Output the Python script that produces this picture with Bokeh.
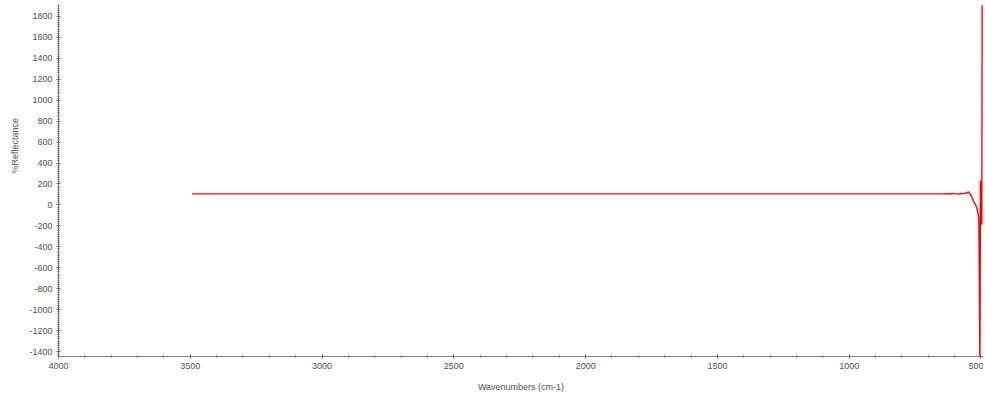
from bokeh.plotting import figure
from bokeh.models import (Range1d, SingleIntervalTicker, ColumnDataSource, Title,
                          CustomJSTickFormatter)
from bokeh.embed import file_html
from bokeh.resources import INLINE

# Spectrum data (wavenumber in cm-1, % reflectance)
wavenumber = [3493, 700, 640, 623, 615, 605, 595, 585, 575, 565, 555, 547,
              540, 533, 527, 521, 514, 508, 504, 502, 500, 497, 495.5]
reflectance = [106, 106, 106, 108, 104, 110, 106, 103, 109, 108, 114, 124,
               98, 67, 30, 3, -45, -124, -1550, 229, 200, -190, 2100]

x_ticks_major = 500
y_ticks_major = 200

src = ColumnDataSource(dict(x=wavenumber, y=reflectance))

p = figure(width=983, height=394, output_backend="svg", toolbar_location=None,
           x_range=Range1d(4000, 490.5), y_range=Range1d(-1447.5, 1904.5),
           min_border_left=58, min_border_right=0, min_border_top=5,
           min_border_bottom=36)

p.line("x", "y", source=src, line_color="#ff0000", line_width=1.4)

p.xgrid.visible = False
p.ygrid.visible = False
p.outline_line_color = None

p.xaxis.ticker = SingleIntervalTicker(interval=x_ticks_major, num_minor_ticks=5)
p.yaxis.ticker = SingleIntervalTicker(interval=y_ticks_major, num_minor_ticks=10)
p.yaxis.formatter = CustomJSTickFormatter(code="return tick.toFixed(0);")

p.xaxis.axis_label = "Wavenumbers (cm-1)"

for ax in (p.xaxis, p.yaxis):
    ax.axis_line_color = "#808080"
    ax.major_tick_line_color = "#606060"
    ax.minor_tick_line_color = "#606060"
    ax.major_tick_in = 2
    ax.major_tick_out = 2
    ax.minor_tick_in = 1
    ax.minor_tick_out = 1
    ax.major_label_text_font = "Liberation Sans"
    ax.major_label_text_font_size = "9px"
    ax.major_label_text_color = "#505050"
    ax.axis_label_text_font = "Liberation Sans"
    ax.axis_label_text_font_size = "9px"
    ax.axis_label_text_font_style = "normal"
    ax.axis_label_text_color = "#505050"
    ax.major_label_standoff = 4

p.xaxis.axis_label_standoff = 10

ytitle = Title(text="%Reflectance", align="left", offset=183,
               text_font="Liberation Sans", text_font_size="9px",
               text_font_style="normal", text_color="#505050", standoff=14)
p.add_layout(ytitle, "left")

open("out.html", "w").write(file_html(p, INLINE))
